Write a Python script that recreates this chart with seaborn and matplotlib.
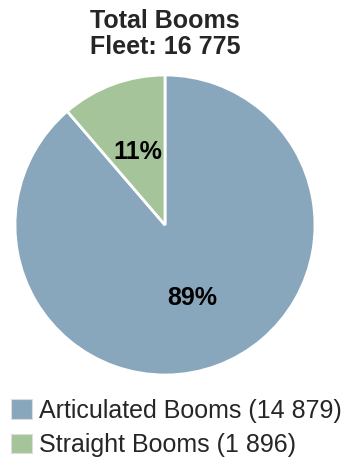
import matplotlib
matplotlib.use('Agg')
import matplotlib.pyplot as plt
import matplotlib.patches as mpatches
import seaborn as sns

# data
categories = ['Articulated Booms', 'Straight Booms']
values = [14879, 1896]
colors = ['#89A7BC', '#A5C49A']
total = sum(values)

sns.set_theme(style='white')
plt.rcParams['font.family'] = ['Liberation Sans', 'DejaVu Sans']

fig = plt.figure(figsize=(3.58, 4.61), dpi=100)
ax = fig.add_axes([15 / 358, 86 / 461, 300 / 358, 300 / 461])

wedges, texts, autotexts = ax.pie(
    values, colors=colors, startangle=90, counterclock=False,
    autopct='%1.0f%%', pctdistance=0.52,
    wedgeprops=dict(edgecolor='white', linewidth=2),
    textprops=dict(fontsize=18, fontweight='bold', color='black'))
ax.set_xlim(-1.0, 1.0)
ax.set_ylim(-1.0, 1.0)
ax.set_aspect('equal')

fig.text(165 / 358, 1 - 34 / 461,
         'Total Booms\nFleet: ' + f'{total:,}'.replace(',', ' '),
         ha='center', va='center', fontsize=18, fontweight='bold', linespacing=1.12)

# legend
handles = [mpatches.Patch(facecolor=c, edgecolor='#dddddd', linewidth=0.8) for c in colors]
labels = [f'{n} ({v:,})'.replace(',', ' ') for n, v in zip(categories, values)]
fig.legend(handles, labels, loc='lower left', bbox_to_anchor=(-0.025, -0.035),
           frameon=False, fontsize=18, handlelength=0.85, handleheight=0.85,
           handletextpad=0.25, labelspacing=0.42, borderpad=0.3)

fig.savefig('out.png', dpi=100)
